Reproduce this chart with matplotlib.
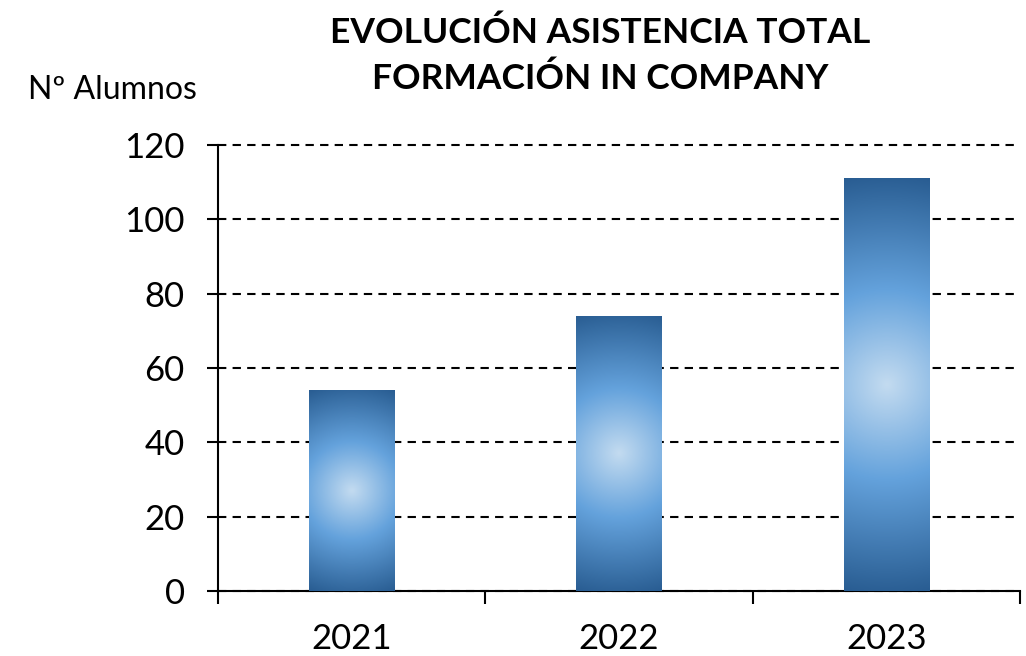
import matplotlib
matplotlib.use("Agg")
import matplotlib.pyplot as plt
import numpy as np
from matplotlib.colors import LinearSegmentedColormap

plt.rcParams['font.family'] = ['Lato', 'DejaVu Sans']

# data
years = ["2021", "2022", "2023"]
alumnos = [54, 74, 111]
y_ticks = [0, 20, 40, 60, 80, 100, 120]

# radial gradient used to fill the bars (light centre, dark edges)
grad = LinearSegmentedColormap.from_list(
    "bar_grad", [(0.0, "#c3dbf0"), (0.45, "#64a2dc"), (1.0, "#295d92")])

fig = plt.figure(figsize=(10.26, 6.56), dpi=100)
ax = fig.add_axes([218 / 1026, 1 - 591 / 656, 802 / 1026, 446 / 656])

x = np.arange(len(years))
bar_w = 0.318
bars = ax.bar(x, alumnos, width=bar_w, color="none", zorder=3)

ax.set_xlim(-0.5, len(years) - 0.5)
ax.set_ylim(0, 120)
ax.set_yticks(y_ticks)

# fill each bar with a radial gradient image clipped to the bar
ax_w = ax.get_position().width * fig.get_figwidth() * fig.dpi
ax_h = ax.get_position().height * fig.get_figheight() * fig.dpi
for rect in bars:
    x0, w, h = rect.get_x(), rect.get_width(), rect.get_height()
    pw = w / (len(years)) * ax_w
    ph = h / 120 * ax_h
    nx, ny = max(int(pw), 2), max(int(ph), 2)
    xx, yy = np.meshgrid(np.linspace(-pw / 2, pw / 2, nx),
                         np.linspace(-ph / 2, ph / 2, ny))
    r = np.sqrt(xx ** 2 + yy ** 2) / np.sqrt((pw / 2) ** 2 + (ph / 2) ** 2)
    im = ax.imshow(r, cmap=grad, vmin=0, vmax=1, extent=(x0, x0 + w, 0, h),
                   aspect="auto", origin="lower", zorder=3,
                   interpolation="bilinear")
    im.set_clip_path(rect)

# gridlines
ax.yaxis.grid(True, color="black", linewidth=1.5, linestyle=(0, (4, 3)))
ax.set_axisbelow(True)
for gl in ax.get_ygridlines():
    gl.set_clip_on(False)

for s in ["top", "right"]:
    ax.spines[s].set_visible(False)
for s in ["left", "bottom"]:
    ax.spines[s].set_linewidth(1.5)
    ax.spines[s].set_color("black")

# category boundaries as ticks, labels at centres
ax.set_xticks(np.arange(len(years) + 1) - 0.5)
ax.set_xticklabels([])
ax.set_xticks(x, minor=True)
ax.set_xticklabels(years, minor=True)
ax.tick_params(axis="x", which="major", length=9, width=1.5, direction="out")
ax.tick_params(axis="x", which="minor", length=0, pad=23, labelsize=25)
ax.tick_params(axis="y", length=8, width=1.5, direction="out", pad=16,
               labelsize=25)

fig.text(0.110, 1 - 90 / 656, "Nº Alumnos", ha="center", va="center",
         fontsize=23)
fig.text(0.585, 1 - 56 / 656, "EVOLUCIÓN ASISTENCIA TOTAL\nFORMACIÓN IN COMPANY",
         ha="center", va="center", fontsize=25.5, fontweight="bold",
         linespacing=1.5)

fig.savefig("out.png", dpi=100)
